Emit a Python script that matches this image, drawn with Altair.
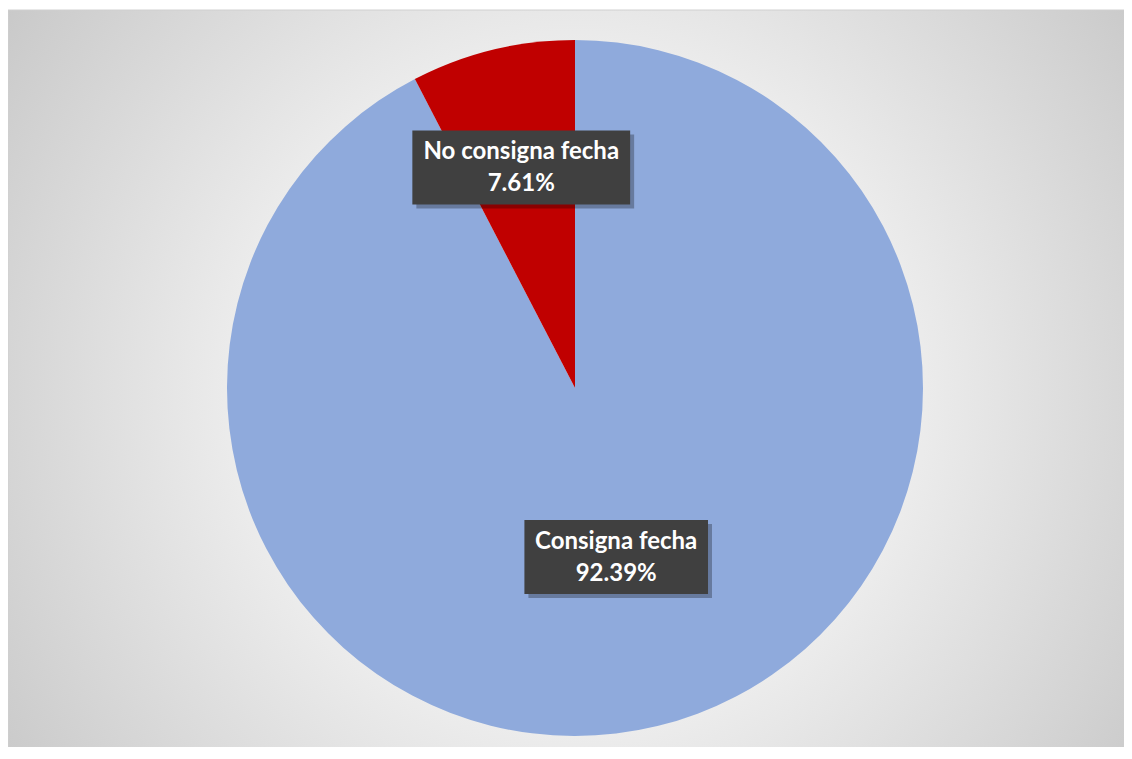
import altair as alt
import pandas as pd

# ---- data ----
categories = ["Consigna fecha", "No consigna fecha"]
values = [92.39, 7.61]
order_idx = [0, 1]

# ---- layout / style constants ----
W, H = 1116, 737
CX, CY, R = 567, 378, 348
LABEL_R = [174, 227]          # distance of each label box centre from pie centre
BLUE, RED = "#8FAADC", "#C00000"

labels = [f"{c}\n{v:.2f}%" for c, v in zip(categories, values)]
df = pd.DataFrame({
    "category": categories,
    "value": values,
    "idx": order_idx,
    "label": labels,
    "lr": LABEL_R,
})

base = alt.Chart(df)

bg = alt.Chart(pd.DataFrame({"a": [0]})).mark_rect(
    fill=alt.RadialGradient(
        gradient="radial",
        x1=0.5, y1=0.5, r1=0.0,
        x2=0.5, y2=0.5, r2=0.71,
        stops=[alt.GradientStop(offset=0, color="#ffffff"),
               alt.GradientStop(offset=0.35, color="#f2f2f2"),
               alt.GradientStop(offset=1, color="#bdbdbd")],
    ),
    stroke="#d0d0d0",
    strokeWidth=1,
).encode(x=alt.value(0), x2=alt.value(W + 20), y=alt.value(0), y2=alt.value(H + 30))

pie = base.mark_arc(outerRadius=R).encode(
    theta=alt.Theta("value:Q", stack=True),
    color=alt.Color("category:N", scale=alt.Scale(domain=categories, range=[BLUE, RED]), legend=None),
    order=alt.Order("idx:Q"),
    x=alt.value(CX),
    y=alt.value(CY),
)

lab = base.transform_joinaggregate(
    total="sum(value)"
).transform_window(
    cum="sum(value)", sort=[alt.SortField("idx")]
).transform_calculate(
    mid="(datum.cum - datum.value/2) / datum.total * 2 * PI",
    lx=f"{CX} + datum.lr * sin(datum.mid)",
    ly=f"{CY} - datum.lr * cos(datum.mid)",
    bw="length(datum.category) * 11.4 + 24",
    x1="datum.lx - datum.bw/2",
    x2="datum.lx + datum.bw/2",
    y1="datum.ly - 37",
    y2="datum.ly + 37",
    sx1="datum.x1 + 4",
    sx2="datum.x2 + 4",
    sy1="datum.y1 + 4",
    sy2="datum.y2 + 4",
)

shadow = lab.mark_rect(fill="#000000", opacity=0.28).encode(
    x=alt.X("sx1:Q", scale=None), x2="sx2:Q",
    y=alt.Y("sy1:Q", scale=None), y2="sy2:Q",
)

box = lab.mark_rect(fill="#404040").encode(
    x=alt.X("x1:Q", scale=None), x2="x2:Q",
    y=alt.Y("y1:Q", scale=None), y2="y2:Q",
)

txt = lab.mark_text(
    font="Lato", fontWeight="bold", fontSize=24, color="#ffffff",
    lineBreak="\n", lineHeight=32, align="center", baseline="middle", dy=-15,
).encode(
    x=alt.X("lx:Q", scale=None),
    y=alt.Y("ly:Q", scale=None),
    text="label:N",
)

chart = alt.layer(bg, pie, shadow, box, txt).properties(
    width=W, height=H,
    padding={"left": 0, "top": 2, "right": 0, "bottom": 0},
    autosize=alt.AutoSizeParams(type="none"),
).configure_view(stroke=None)

chart.save("out.html", embed_options={"renderer": "svg", "actions": False})
